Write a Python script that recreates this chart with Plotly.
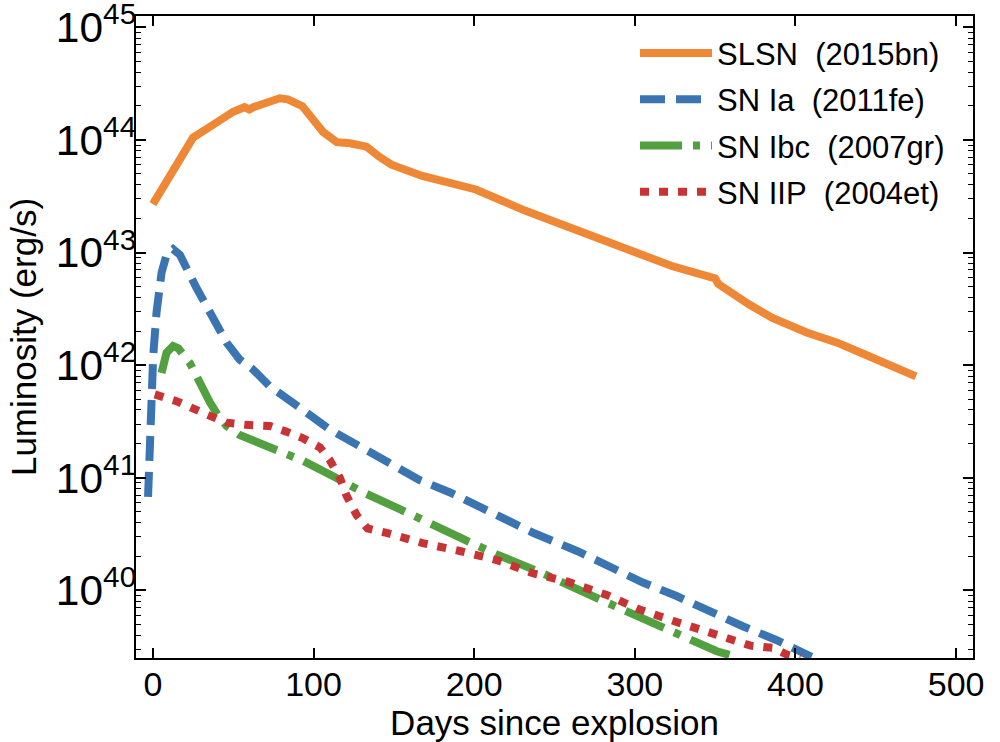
import numpy as np
import plotly.graph_objects as go

# light curves: days since explosion, log10 luminosity (erg/s)
slsn_days = [0, 25, 37, 50, 57, 60, 62.5, 71, 79, 84, 87, 93, 106, 114.5, 122.7, 133,
             141, 148.5, 167.7, 173.7, 188, 201, 232, 285, 292, 323, 350, 352, 371,
             378, 385.6, 407, 426, 440.7, 475]
slsn_logl = [43.43, 44.02, 44.13, 44.25, 44.29, 44.27, 44.29, 44.34, 44.37, 44.36, 44.34,
             44.30, 44.07, 43.98, 43.97, 43.94, 43.85, 43.78, 43.68, 43.66, 43.62, 43.56,
             43.37, 43.09, 43.05, 42.88, 42.77, 42.72, 42.54, 42.49, 42.42, 42.29, 42.20,
             42.11, 41.90]

ia_days = [-3, -1.9, 0.2, 2.3, 5.4, 8.5, 12.6, 16.8, 22, 27, 32.4, 37.5, 45.9, 54, 62.5,
           72.9, 81, 93.6, 110, 131, 147.6, 166, 185, 212, 237, 264, 284.6, 305, 326,
           347, 367.5, 388, 410]
ia_logl = [40.83, 41.43, 42.08, 42.47, 42.82, 42.98, 43.03, 42.98, 42.85, 42.69, 42.55,
           42.43, 42.20, 42.05, 41.96, 41.81, 41.72, 41.60, 41.43, 41.26, 41.14, 40.98,
           40.87, 40.69, 40.51, 40.35, 40.20, 40.07, 39.95, 39.81, 39.68, 39.56, 39.41]

ibc_days = [5.4, 8.5, 12.6, 15.8, 23, 29, 35.5, 40.7, 45.9, 54, 75, 93.6, 114, 131, 154,
            172.5, 191, 214, 243, 272, 311, 351, 363]
ibc_logl = [41.93, 42.11, 42.17, 42.15, 42.02, 41.84, 41.67, 41.55, 41.46, 41.38, 41.26,
            41.15, 41.00, 40.87, 40.72, 40.59, 40.47, 40.32, 40.15, 39.96, 39.72, 39.46,
            39.41]

iip_days = [1.2, 14.8, 35.5, 45.9, 58, 73, 83, 93.6, 104, 110, 116.4, 120.6, 126.8, 133.6,
            145.5, 168, 191, 214, 237, 257.6, 282.5, 303, 326, 349, 372, 386, 394.6, 403]
iip_logl = [41.74, 41.68, 41.55, 41.49, 41.47, 41.46, 41.41, 41.35, 41.27, 41.16, 41.00,
            40.84, 40.67, 40.55, 40.51, 40.42, 40.35, 40.27, 40.15, 40.08, 39.96, 39.83,
            39.72, 39.62, 39.51, 39.49, 39.43, 39.40]

NB = "\u00a0"
series = [
    (f"SLSN{NB} (2015bn)", slsn_days, slsn_logl, "#EF8836", "solid"),
    (f"SN Ia{NB} (2011fe)", ia_days, ia_logl, "#3A75B1", "25px,11px"),
    (f"SN Ibc{NB} (2007gr)", ibc_days, ibc_logl, "#52A040", "42px,11px,7px,11px"),
    (f"SN IIP{NB} (2004et)", iip_days, iip_logl, "#C83434", "9px,10px"),
]

FONT = "Liberation Sans, Arial"

fig = go.Figure()
for i, (name, days, logl, color, dash) in enumerate(series):
    fig.add_trace(go.Scatter(
        x=days,
        y=10 ** np.array(logl),
        mode="lines",
        name=name,
        legendgroup=f"g{i}",
        line=dict(color=color, width=8, dash=dash),
    ))

axis_common = dict(
    showline=True,
    linecolor="black",
    linewidth=2,
    mirror="allticks",
    ticks="inside",
    ticklen=10,
    tickwidth=1.5,
    tickcolor="black",
    showgrid=False,
    zeroline=False,
    automargin=False,
    ticklabeloverflow="allow",
    tickfont=dict(family=FONT, size=34, color="black"),
)

fig.update_xaxes(
    **axis_common,
    range=[-10.5, 510.5],
    dtick=100,
    ticklabelstandoff=-5,
    title=dict(text="Days since explosion", standoff=0,
               font=dict(family=FONT, size=35, color="black")),
)
fig.update_yaxes(
    **axis_common,
    type="log",
    range=[39.4, 45.1],
    dtick=1,
    exponentformat="power",
    showexponent="all",
    ticklabelstandoff=-9,
    minor=dict(ticks="inside", ticklen=5, tickwidth=1.2, tickcolor="black",
               dtick="D1", showgrid=False),
    title=dict(text="Luminosity (erg/s)", standoff=9,
               font=dict(family=FONT, size=35, color="black")),
)

fig.update_layout(
    width=1000,
    height=742,
    margin=dict(l=136, r=27, t=16, b=84),
    paper_bgcolor="white",
    plot_bgcolor="white",
    legend=dict(
        x=0.5962, y=0.984, xanchor="left", yanchor="top",
        bgcolor="rgba(0,0,0,0)",
        font=dict(family=FONT, size=31, color="black"),
        itemwidth=72,
        tracegroupgap=3,
    ),
)

# page body has a default 8px margin; drop it so the figure sits at the corner
fig.write_html("out.html", config={"displayModeBar": False},
               post_script="document.body.style.margin='0';")
